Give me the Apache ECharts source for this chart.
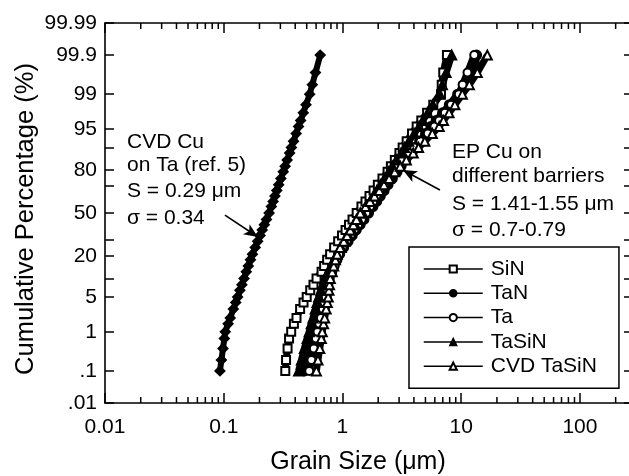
<!DOCTYPE html>
<html><head><meta charset="utf-8">
<script src="https://cdn.jsdelivr.net/npm/echarts@6/dist/echarts.min.js"></script>
<style>html,body{margin:0;padding:0;background:#fff}#c{width:629px;height:476px}</style>
</head><body><div id="c"></div>
<script>
// ---- data (cumulative percentage levels and grain sizes in µm) ----
const percentLevels = [0.1,0.2,0.4,0.7,1,1.5,2,3,4,5,6.5,8,10,12.5,15,18,21,25,29,33,37,41,45,50,55,59,63,67,71,75,79,82,85,88,90,92,94,95.5,96.5,97.5,98.3,99,99.4,99.7,99.9];
const sizeSiN = [0.33,0.335,0.345,0.355,0.37,0.39,0.41,0.44,0.47,0.50,0.535,0.57,0.605,0.667,0.701,0.743,0.787,0.851,0.920,0.991,1.062,1.135,1.216,1.318,1.445,1.563,1.690,1.828,1.986,2.173,2.399,2.559,2.761,3.020,3.214,3.475,3.855,4.217,4.613,5.164,5.821,6.761,6.855,7.063,7.586];
const sizeTaN = [0.479,0.504,0.530,0.556,0.575,0.598,0.619,0.647,0.670,0.692,0.716,0.740,0.766,0.811,0.851,0.899,0.948,1.023,1.117,1.208,1.306,1.409,1.517,1.660,1.807,1.941,2.084,2.244,2.421,2.630,2.884,3.119,3.404,3.776,4.074,4.467,5.012,5.559,6.152,6.966,7.943,9.333,10.94,13.06,13.49];
const sizeTa = [0.525,0.548,0.574,0.598,0.617,0.638,0.658,0.684,0.705,0.724,0.745,0.760,0.782,0.820,0.855,0.893,0.935,1.000,1.086,1.172,1.262,1.355,1.455,1.585,1.710,1.816,1.932,2.061,2.203,2.366,2.570,2.851,3.199,3.639,4.036,4.539,5.236,5.957,6.516,7.295,8.222,9.550,10.28,11.30,12.88];
const sizeTaSiN = [0.427,0.451,0.478,0.504,0.525,0.546,0.565,0.590,0.611,0.631,0.658,0.682,0.710,0.757,0.800,0.847,0.900,0.977,1.054,1.127,1.205,1.285,1.368,1.479,1.600,1.706,1.820,1.950,2.089,2.254,2.455,2.630,2.838,3.119,3.334,3.622,4.018,4.416,4.742,5.224,5.781,6.607,6.950,7.464,8.318];
const sizeCvdTaSiN = [0.603,0.622,0.644,0.664,0.676,0.693,0.708,0.729,0.745,0.759,0.770,0.778,0.790,0.820,0.844,0.873,0.903,0.955,1.026,1.094,1.164,1.236,1.312,1.413,1.563,1.706,1.862,2.042,2.239,2.472,2.754,3.069,3.451,3.945,4.375,4.943,5.715,6.531,7.096,7.907,8.851,10.23,11.72,13.68,16.60];
const sizeCvdCuOnTa = [0.0929,0.0956,0.0986,0.1012,0.1030,0.1089,0.1135,0.1205,0.1262,0.1309,0.1368,0.1422,0.1483,0.1549,0.1611,0.1679,0.1746,0.1841,0.1932,0.2023,0.2109,0.2198,0.2291,0.2410,0.2518,0.2606,0.2698,0.2799,0.2904,0.3029,0.3170,0.3289,0.3420,0.3589,0.3715,0.3873,0.4074,0.4266,0.4446,0.4677,0.4932,0.5297,0.5572,0.5929,0.650];
const seriesNames = ['SiN','TaN','Ta','TaSiN','CVD TaSiN'];
// axis ticks
const xMin = 0.01, xMax = 280;
const xMinorTicks = [0.02,0.03,0.04,0.05,0.06,0.07,0.08,0.09,0.2,0.3,0.4,0.5,0.6,0.7,0.8,0.9,2,3,4,5,6,7,8,9,20,30,40,50,60,70,80,90,200];
const yTickPercents = [0.01,0.1,1,5,10,20,30,50,70,80,90,95,99,99.9,99.99];
const yLabelPercents = [0.01,0.1,1,5,20,50,80,95,99,99.9,99.99];
const yLabelTexts = ['.01','.1','1','5','20','50','80','95','99','99.9','99.99'];
// annotation arrows [grain size, percent]
const arrowCvd = [[0.1024,48.4],[0.194,31.9]];
const arrowEp = [[6.62,67.4],[3.23,80]];

// ---- probability (probit) transform for the y scale ----
function probit(p){
  const a=[-3.969683028665376e+01,2.209460984245205e+02,-2.759285104469687e+02,1.383577518672690e+02,-3.066479806614716e+01,2.506628277459239e+00];
  const b=[-5.447609879822406e+01,1.615858368580409e+02,-1.556989798598866e+02,6.680131188771972e+01,-1.328068155288572e+01];
  const c=[-7.784894002430293e-03,-3.223964580411365e-01,-2.400758277161838e+00,-2.549732539343734e+00,4.374664141464968e+00,2.938163982698783e+00];
  const d=[7.784695709041462e-03,3.224671290700398e-01,2.445134137142996e+00,3.754408661907416e+00];
  const pl=0.02425, ph=1-pl; let q,r;
  if(p<pl){q=Math.sqrt(-2*Math.log(p));return (((((c[0]*q+c[1])*q+c[2])*q+c[3])*q+c[4])*q+c[5])/((((d[0]*q+d[1])*q+d[2])*q+d[3])*q+1);}
  if(p<=ph){q=p-0.5;r=q*q;return (((((a[0]*r+a[1])*r+a[2])*r+a[3])*r+a[4])*r+a[5])*q/(((((b[0]*r+b[1])*r+b[2])*r+b[3])*r+b[4])*r+1);}
  q=Math.sqrt(-2*Math.log(1-p));return -(((((c[0]*q+c[1])*q+c[2])*q+c[3])*q+c[4])*q+c[5])/((((d[0]*q+d[1])*q+d[2])*q+d[3])*q+1);
}
const zOf = pct => probit(pct/100);
const zMin = zOf(0.01), zMax = zOf(99.99);

const FONT = '"Liberation Sans", Arial, sans-serif';
const chart = echarts.init(document.getElementById('c'), null, {renderer:'canvas'});

function lineSeries(name, xs, symbol, size, lw, bw){
  return {
    name, type:'line', xAxisIndex:0, yAxisIndex:0,
    data: xs.map((x,i)=>[x, zOf(percentLevels[i])]),
    symbol, symbolSize:size, showSymbol:true, clip:false,
    lineStyle:{color:'#000', width:lw},
    itemStyle:{color:'#000', borderColor:'#000', borderWidth:bw},
    emphasis:{disabled:true}, z:3
  };
}
function arrowLine(arr){
  return [{coord:[arr[0][0], zOf(arr[0][1])], symbol:'none'}, {coord:[arr[1][0], zOf(arr[1][1])], symbol:'arrow', symbolSize:[9,14]}];
}

const yAxisCommon = {
  type:'value', min:zMin, max:zMax,
  axisLine:{show:true, onZero:false, lineStyle:{color:'#000', width:1.6}},
  axisTick:{show:true, inside:true, length:9, lineStyle:{color:'#000', width:1.5}, customValues: yTickPercents.map(zOf)},
  splitLine:{show:false}
};
const xAxisCommon = {
  type:'log', logBase:10, min:xMin, max:xMax,
  axisLine:{show:true, onZero:false, lineStyle:{color:'#000', width:1.6}},
  axisTick:{show:true, inside:true, length:10, lineStyle:{color:'#000', width:1.5}},
  splitLine:{show:false}, minorTick:{show:false}
};

const annotations = [
  {t:'CVD Cu', x:127, y:132},
  {t:'on Ta (ref. 5)', x:127, y:155},
  {t:'S = 0.29 \u03bcm', x:127, y:181},
  {t:'\u03c3 = 0.34', x:127, y:208},
  {t:'EP Cu on', x:452, y:142},
  {t:'different barriers', x:452, y:166},
  {t:'S = 1.41-1.55 \u03bcm', x:452, y:194},
  {t:'\u03c3 = 0.7-0.79', x:452, y:220}
];

const option = {
  animation:false,
  backgroundColor:'#fff',
  grid:{left:105, right:-4, top:23, bottom:73, containLabel:false, outerBoundsMode:'none'},
  xAxis:[
    Object.assign({}, xAxisCommon, {position:'bottom',
      axisLabel:{show:true, margin:14, color:'#000', fontFamily:FONT, fontSize:21, showMaxLabel:false,
        formatter: v => String(v)},
      name:'Grain Size (\u03bcm)', nameLocation:'middle', nameGap:47, nameMoveOverlap:false,
      nameTextStyle:{color:'#000', fontFamily:FONT, fontSize:25, padding:[0,22,0,0]}}),
    Object.assign({}, xAxisCommon, {position:'top', axisLabel:{show:false}})
  ],
  yAxis:[
    Object.assign({}, yAxisCommon, {position:'left',
      axisLabel:{show:true, margin:8, color:'#000', fontFamily:FONT, fontSize:21,
        customValues: yLabelPercents.map(zOf),
        showMinLabel:true, showMaxLabel:true,
        formatter: v => { for(let i=0;i<yLabelPercents.length;i++){ if(Math.abs(zOf(yLabelPercents[i])-v)<1e-6) return yLabelTexts[i]; } return ''; }},
      name:'Cumulative Percentage (%)', nameLocation:'middle', nameGap:66, nameMoveOverlap:false,
      nameTextStyle:{color:'#000', fontFamily:FONT, fontSize:25.5, padding:[0,12,0,0]}}),
    Object.assign({}, yAxisCommon, {position:'right', axisLabel:{show:false}})
  ],
  legend:{
    orient:'vertical', left:409, top:247, padding:[11.5,22,11.5,14],
    itemWidth:59, itemHeight:9, itemGap:3.3,
    borderColor:'#000', borderWidth:1.5, backgroundColor:'#fff',
    selectedMode:false,
    textStyle:{color:'#000', fontFamily:FONT, fontSize:21, lineHeight:21, padding:[0,0,0,3]},
    lineStyle:{width:1.5, color:'#000'},
    itemStyle:{borderWidth:1.3},
    data: seriesNames
  },
  graphic: annotations.map(a => ({type:'text', left:a.x, top:a.y, z:10,
    style:{text:a.t, fill:'#000', font:'21px ' + FONT}})),
  series:[
    Object.assign(lineSeries('CVD Cu on Ta', sizeCvdCuOnTa, 'diamond', 9, 6, 2), {
      markLine:{silent:true, label:{show:false}, lineStyle:{color:'#000', width:1.6, type:'solid'},
        symbol:['none','arrow'], data:[arrowLine(arrowCvd), arrowLine(arrowEp)]}
    }),
    lineSeries(seriesNames[0], sizeSiN, 'emptyRect', 8, 7, 2.5),
    lineSeries(seriesNames[1], sizeTaN, 'circle', 9, 7, 2),
    lineSeries(seriesNames[2], sizeTa, 'emptyCircle', 8, 7, 2.5),
    lineSeries(seriesNames[3], sizeTaSiN, 'triangle', 9, 7, 2),
    lineSeries(seriesNames[4], sizeCvdTaSiN, 'emptyTriangle', 9, 7, 2.5),
    {
      type:'custom', xAxisIndex:0, yAxisIndex:0, silent:true, clip:false, z:4,
      data: xMinorTicks.map(v => [v, zMin]),
      renderItem: (params, api) => {
        const x = api.value(0);
        const b = api.coord([x, zMin]);
        const t = api.coord([x, zMax]);
        const st = {stroke:'#000', lineWidth:1.5};
        return {type:'group', children:[
          {type:'line', shape:{x1:b[0], y1:b[1], x2:b[0], y2:b[1]-6}, style:st},
          {type:'line', shape:{x1:t[0], y1:t[1], x2:t[0], y2:t[1]+6}, style:st}
        ]};
      }
    }
  ]
};
chart.setOption(option);
</script>
</body></html>
